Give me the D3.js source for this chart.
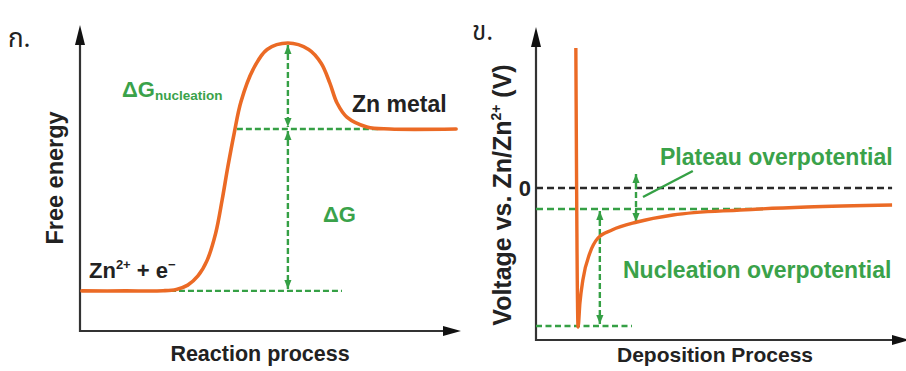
<!DOCTYPE html>
<html><head><meta charset="utf-8">
<script src="https://cdn.jsdelivr.net/npm/d3@7"></script>
<style>
body{margin:0;background:#fff}
svg{display:block}
text{font-family:"Liberation Sans",Arial,sans-serif;font-weight:bold}
</style>
</head><body>
<svg id="c" width="906" height="371"></svg>
<script>
// ---------- Panel ก : free-energy profile (arbitrary units 0..100) ----------
const energyX = [0.5, 12.0, 22.0, 25.5, 28.5, 31.2, 33.6, 35.9, 37.6, 39.1, 40.8, 42.6, 45.8, 49.5, 55.0, 60.5, 63.8, 66.1, 68.0, 70.6, 75.9, 82.0, 99.5];
const energyY = [13.1, 13.1, 13.15, 13.6, 15.0, 18.0, 23.0, 32.0, 42.8, 53.6, 64.7, 75.0, 85.5, 92.0, 94.1, 92.0, 87.5, 81.0, 74.5, 69.9, 66.7, 66.0, 66.0];
const energyLevels = [13.1, 66.0, 94.1];          // initial, Zn metal, peak
const energyLevelSpan = [[23.8, 69.3], [41.5, 79.4]]; // dashed guide extents (x)
const energyArrowX = 55.0;

// ---------- Panel ข : deposition voltage (arbitrary units, 0 = Zn/Zn2+) ----------
const voltX = [10.8, 11.4, 11.9, 12.7, 14.6, 16.8, 20.6, 27.4, 37.1, 55.3, 73.4, 96.5];
const voltY = [140, -139, -115, -92, -65, -50, -42, -34, -27, -22, -19, -17];
const voltZero = 0;
const voltPlateau = -21;
const voltMin = -138;
const voltGuideEnd = [96.5, 62.0, 26.0];   // zero line, plateau line, minimum line
const nucleationArrowX = 17.3;
const plateauArrow = [27.1, 14, -34];     // x, top, bottom
const leader = [[29.0, -9], [42.5, 17]];

const panelLabels = ["ก.", "ข."];
const texts = {
  yLeft: "Free energy", xLeft: "Reaction process",
  yRight: "Voltage vs. Zn/Zn", xRight: "Deposition Process",
  metal: "Zn metal", plateau: "Plateau overpotential", nucleation: "Nucleation overpotential"
};

const ORANGE = "#eb6a25", GREEN = "#35a045", GTEXT = "#3aa24a", INK = "#222", AXIS = "#333";

const svg = d3.select("#c");
const defs = svg.append("defs");
defs.append("marker").attr("id", "ga")
  .attr("viewBox", "0 0 10 8").attr("refX", 10).attr("refY", 4)
  .attr("markerWidth", 9).attr("markerHeight", 7.5)
  .attr("markerUnits", "userSpaceOnUse").attr("orient", "auto-start-reverse")
  .append("path").attr("d", "M0,0L10,4L0,8z").attr("fill", GREEN);

function axes(g, x, y, xTip, yTip) {
  const x0 = x.range()[0], y0 = y.range()[0];
  g.append("line").attr("x1", x0).attr("y1", y0 + 1).attr("x2", x0).attr("y2", yTip + 14)
    .attr("stroke", AXIS).attr("stroke-width", 2.2);
  g.append("line").attr("x1", x0 - 1).attr("y1", y0).attr("x2", xTip - 14).attr("y2", y0)
    .attr("stroke", AXIS).attr("stroke-width", 2.2);
  g.append("path").attr("d", `M${x0},${yTip}L${x0 - 5},${yTip + 20}L${x0 + 5},${yTip + 20}Z`).attr("fill", "#111");
  g.append("path").attr("d", `M${xTip},${y0}L${xTip - 18},${y0 - 5}L${xTip - 18},${y0 + 5}Z`).attr("fill", "#111");
}
function dash(g, x1, y1, x2, y2, color, da) {
  return g.append("line").attr("x1", x1).attr("y1", y1).attr("x2", x2).attr("y2", y2)
    .attr("stroke", color).attr("stroke-width", 2.4).attr("stroke-dasharray", da);
}

// ===== Panel ก =====
const xE = d3.scaleLinear([0, 100], [80, 458]);
const yE = d3.scaleLinear([0, 100], [331, 25]);
const gL = svg.append("g");
axes(gL, xE, yE, 461, 25);

dash(gL, xE(energyLevelSpan[0][0]), yE(energyLevels[0]), xE(energyLevelSpan[0][1]), yE(energyLevels[0]), GREEN, "6,3");
dash(gL, xE(energyLevelSpan[1][0]), yE(energyLevels[1]), xE(energyLevelSpan[1][1]), yE(energyLevels[1]), GREEN, "6,3");
dash(gL, xE(energyArrowX), yE(energyLevels[2]) + 2, xE(energyArrowX), yE(energyLevels[1]) - 2, GREEN, "6,3")
  .attr("marker-start", "url(#ga)").attr("marker-end", "url(#ga)");
dash(gL, xE(energyArrowX), yE(energyLevels[1]) + 2, xE(energyArrowX), yE(energyLevels[0]) - 2, GREEN, "6,3")
  .attr("marker-start", "url(#ga)").attr("marker-end", "url(#ga)");

const lineE = d3.line().x((d, i) => xE(energyX[i])).y(d => yE(d)).curve(d3.curveCatmullRom.alpha(0.5));
gL.append("path").attr("d", lineE(energyY)).attr("fill", "none")
  .attr("stroke", ORANGE).attr("stroke-width", 3.6).attr("stroke-linecap", "round");

gL.append("text").attr("x", 8).attr("y", 47).attr("font-size", 26).style("font-weight", "normal")
  .style("font-family", "'Noto Sans Thai','Loma','Garuda','DejaVu Sans',sans-serif").attr("fill", INK).text(panelLabels[0]);
const dg1 = gL.append("text").attr("x", 122).attr("y", 97).attr("font-size", 22).attr("fill", GTEXT);
dg1.append("tspan").text("ΔG");
dg1.append("tspan").attr("font-size", 13.5).attr("dy", 3).text("nucleation");
gL.append("text").attr("x", 323).attr("y", 222).attr("font-size", 22).attr("fill", GTEXT).text("ΔG");
gL.append("text").attr("x", 352).attr("y", 112).attr("font-size", 23).attr("fill", INK).text(texts.metal);
const zn = gL.append("text").attr("x", 89).attr("y", 278).attr("font-size", 22).attr("fill", INK);
zn.append("tspan").text("Zn");
zn.append("tspan").attr("font-size", 13).attr("dy", -9).text("2+");
zn.append("tspan").attr("dy", 9).text(" + e");
zn.append("tspan").attr("font-size", 13).attr("dy", -9).text("−");
gL.append("text").attr("transform", "translate(63,178) rotate(-90)").attr("text-anchor", "middle")
  .attr("font-size", 23.5).attr("fill", INK).text(texts.yLeft);
gL.append("text").attr("x", 260).attr("y", 361).attr("text-anchor", "middle")
  .attr("font-size", 21.5).attr("fill", INK).text(texts.xLeft);

// ===== Panel ข =====
const xV = d3.scaleLinear([0, 100], [536, 905]);
const yV = d3.scaleLinear([-152, 161], [340, 27]);
const gR = svg.append("g");
axes(gR, xV, yV, 910, 27);

dash(gR, xV(0), yV(voltZero), xV(voltGuideEnd[0]), yV(voltZero), "#2a2a2a", "7,4");
dash(gR, xV(0), yV(voltPlateau), xV(voltGuideEnd[1]), yV(voltPlateau), GREEN, "7,4");
dash(gR, xV(0), yV(voltMin), xV(voltGuideEnd[2]), yV(voltMin), GREEN, "6,3.5");
dash(gR, xV(nucleationArrowX), yV(voltPlateau) + 2, xV(nucleationArrowX), yV(voltMin) - 2, GREEN, "6,3")
  .attr("marker-start", "url(#ga)").attr("marker-end", "url(#ga)");
dash(gR, xV(plateauArrow[0]), yV(plateauArrow[1]), xV(plateauArrow[0]), yV(plateauArrow[2]), GREEN, "6,3")
  .attr("marker-start", "url(#ga)").attr("marker-end", "url(#ga)");
gR.append("line").attr("x1", xV(leader[0][0])).attr("y1", yV(leader[0][1]))
  .attr("x2", xV(leader[1][0])).attr("y2", yV(leader[1][1]))
  .attr("stroke", GREEN).attr("stroke-width", 2.4);

const lineV = d3.line().x((d, i) => xV(voltX[i])).y(d => yV(d)).curve(d3.curveMonotoneX);
gR.append("path").attr("d", lineV(voltY)).attr("fill", "none")
  .attr("stroke", ORANGE).attr("stroke-width", 3.4).attr("stroke-linejoin", "round");

gR.append("text").attr("x", 472).attr("y", 40).attr("font-size", 26).style("font-weight", "normal")
  .style("font-family", "'Noto Sans Thai','Loma','Garuda','DejaVu Sans',sans-serif").attr("fill", INK).text(panelLabels[1]);
gR.append("text").attr("x", 531).attr("y", yV(voltZero) + 8).attr("text-anchor", "end")
  .attr("font-size", 22).attr("fill", INK).text("0");
gR.append("text").attr("x", 660).attr("y", 165).attr("font-size", 23).attr("fill", GTEXT).text(texts.plateau);
gR.append("text").attr("x", 623).attr("y", 278).attr("font-size", 23).attr("fill", GTEXT).text(texts.nucleation);
const yl = gR.append("text").attr("transform", "translate(511,195) rotate(-90)").attr("text-anchor", "middle")
  .attr("font-size", 25).attr("fill", INK);
yl.append("tspan").text(texts.yRight);
yl.append("tspan").attr("font-size", 14).attr("dy", -10).text("2+");
yl.append("tspan").attr("dy", 10).text(" (V)");
gR.append("text").attr("x", 715).attr("y", 362).attr("text-anchor", "middle")
  .attr("font-size", 21).attr("fill", INK).text(texts.xRight);
</script>
</body></html>
